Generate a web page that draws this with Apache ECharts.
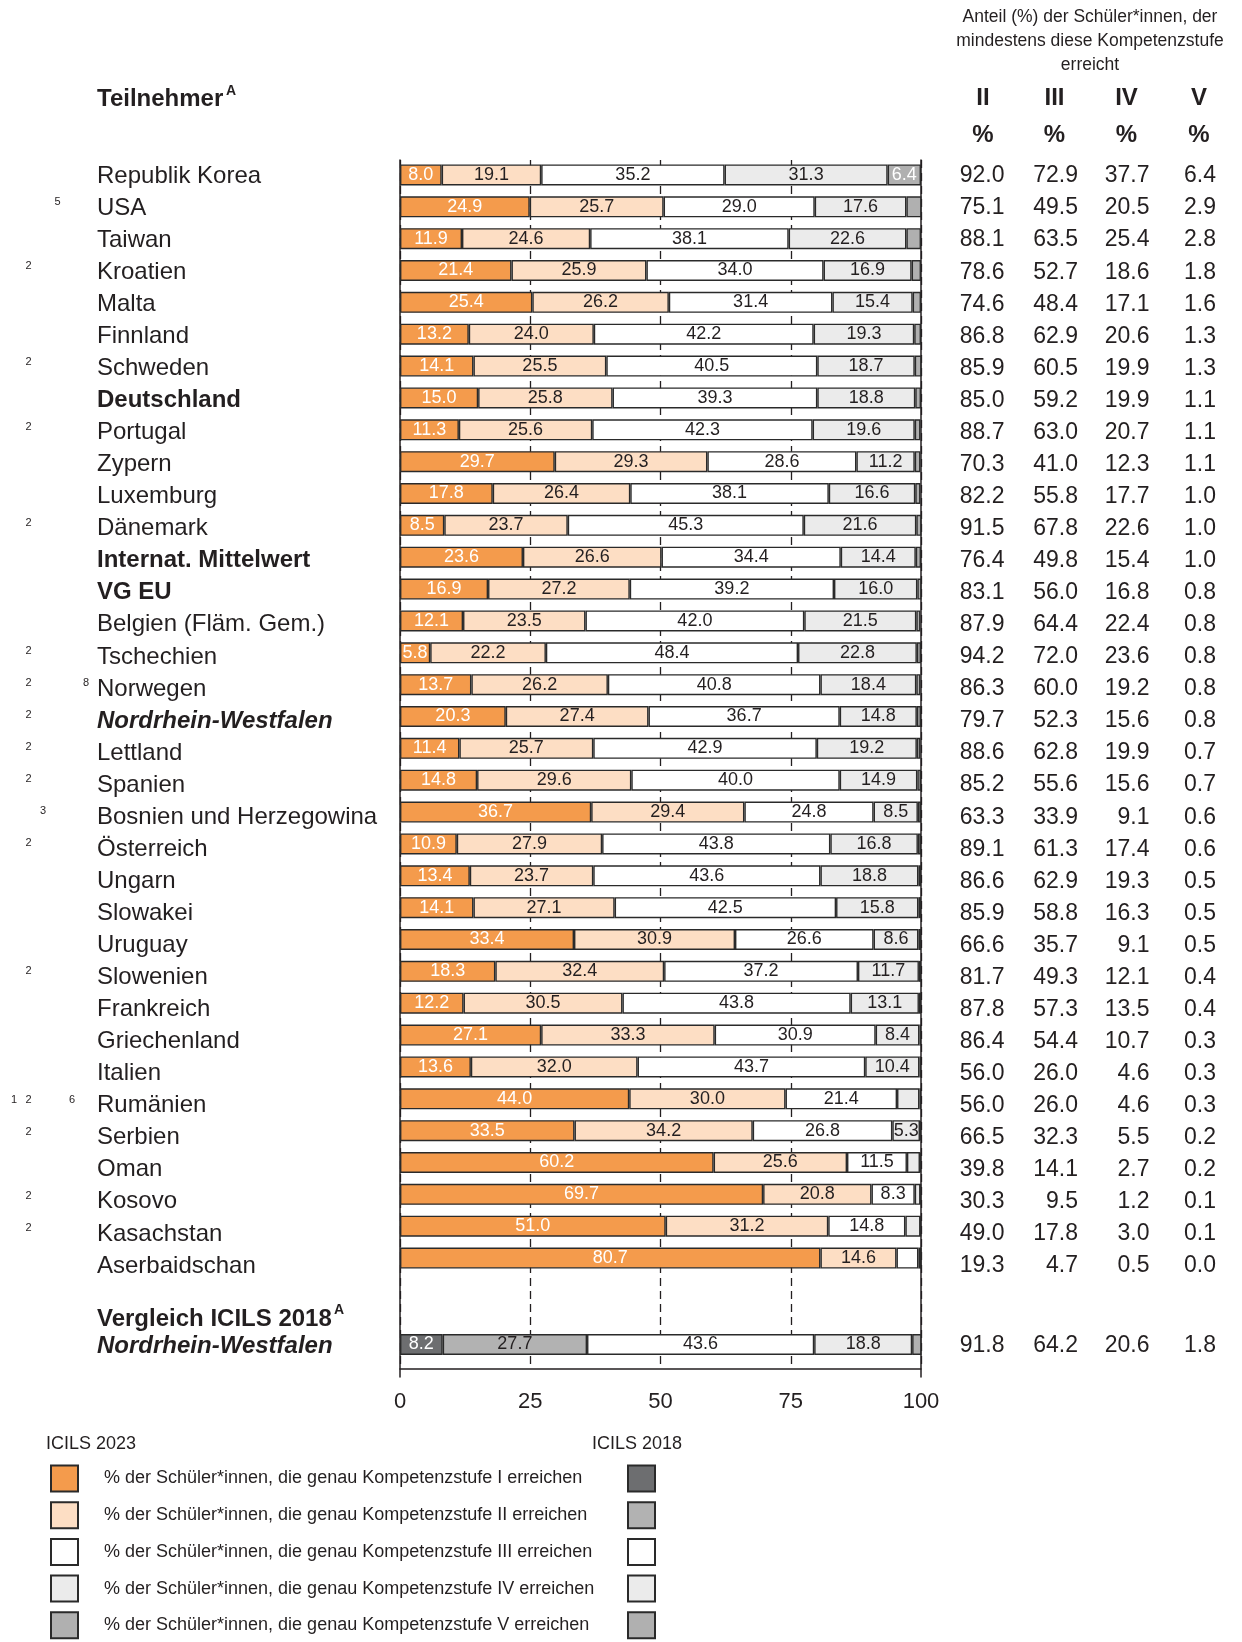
<!DOCTYPE html>
<html><head><meta charset="utf-8">
<script src="https://cdn.jsdelivr.net/npm/echarts/dist/echarts.min.js"></script>
<style>html,body{margin:0;padding:0;background:#fff}#c{width:1242px;height:1642px}</style>
</head><body><div id="c"></div>
<script>
// ---------------- DATA ----------------
const countries = ['Republik Korea','USA','Taiwan','Kroatien','Malta','Finnland','Schweden','Deutschland','Portugal','Zypern','Luxemburg','Dänemark','Internat. Mittelwert','VG EU','Belgien (Fläm. Gem.)','Tschechien','Norwegen','Nordrhein-Westfalen','Lettland','Spanien','Bosnien und Herzegowina','Österreich','Ungarn','Slowakei','Uruguay','Slowenien','Frankreich','Griechenland','Italien','Rumänien','Serbien','Oman','Kosovo','Kasachstan','Aserbaidschan'];
const footnotes = ['','5','','2','','','2','','2','','','2','','','','2','2 8','2','2','2','3','2','','','','2','','','','1 2 6','2','','2','2',''];
const boldRows = ['Deutschland','Internat. Mittelwert','VG EU'];
const boldItalicRows = ['Nordrhein-Westfalen'];

// share of students reaching exactly level I..V (ICILS 2023)
const levelI   = [8.0,24.9,11.9,21.4,25.4,13.2,14.1,15.0,11.3,29.7,17.8,8.5,23.6,16.9,12.1,5.8,13.7,20.3,11.4,14.8,36.7,10.9,13.4,14.1,33.4,18.3,12.2,27.1,13.6,44.0,33.5,60.2,69.7,51.0,80.7];
const levelII  = [19.1,25.7,24.6,25.9,26.2,24.0,25.5,25.8,25.6,29.3,26.4,23.7,26.6,27.2,23.5,22.2,26.2,27.4,25.7,29.6,29.4,27.9,23.7,27.1,30.9,32.4,30.5,33.3,32.0,30.0,34.2,25.6,20.8,31.2,14.6];
const levelIII = [35.2,29.0,38.1,34.0,31.4,42.2,40.5,39.3,42.3,28.6,38.1,45.3,34.4,39.2,42.0,48.4,40.8,36.7,42.9,40.0,24.8,43.8,43.6,42.5,26.6,37.2,43.8,30.9,43.7,21.4,26.8,11.5,8.3,14.8,4.2];
const levelIV  = [31.3,17.6,22.6,16.9,15.4,19.3,18.7,18.8,19.6,11.2,16.6,21.6,14.4,16.0,21.5,22.8,18.4,14.8,19.2,14.9,8.5,16.8,18.8,15.8,8.6,11.7,13.1,8.4,10.4,4.3,5.3,2.5,1.1,2.9,0.5];
const levelV   = [6.4,2.9,2.8,1.8,1.6,1.3,1.3,1.1,1.1,1.1,1.0,1.0,1.0,0.8,0.8,0.8,0.8,0.8,0.7,0.7,0.6,0.6,0.5,0.5,0.5,0.4,0.4,0.3,0.3,0.3,0.2,0.2,0.1,0.1,0.0];

// share reaching at least level II..V
const atLeastII  = [92.0,75.1,88.1,78.6,74.6,86.8,85.9,85.0,88.7,70.3,82.2,91.5,76.4,83.1,87.9,94.2,86.3,79.7,88.6,85.2,63.3,89.1,86.6,85.9,66.6,81.7,87.8,86.4,56.0,56.0,66.5,39.8,30.3,49.0,19.3];
const atLeastIII = [72.9,49.5,63.5,52.7,48.4,62.9,60.5,59.2,63.0,41.0,55.8,67.8,49.8,56.0,64.4,72.0,60.0,52.3,62.8,55.6,33.9,61.3,62.9,58.8,35.7,49.3,57.3,54.4,26.0,26.0,32.3,14.1,9.5,17.8,4.7];
const atLeastIV  = [37.7,20.5,25.4,18.6,17.1,20.6,19.9,19.9,20.7,12.3,17.7,22.6,15.4,16.8,22.4,23.6,19.2,15.6,19.9,15.6,9.1,17.4,19.3,16.3,9.1,12.1,13.5,10.7,4.6,4.6,5.5,2.7,1.2,3.0,0.5];
const atLeastV   = [6.4,2.9,2.8,1.8,1.6,1.3,1.3,1.1,1.1,1.1,1.0,1.0,1.0,0.8,0.8,0.8,0.8,0.8,0.7,0.7,0.6,0.6,0.5,0.5,0.5,0.4,0.4,0.3,0.3,0.3,0.2,0.2,0.1,0.1,0.0];

// ICILS 2018 comparison
const cmpCountries = ['Nordrhein-Westfalen'];
const cmpI = [8.2], cmpII = [27.7], cmpIII = [43.6], cmpIV = [18.8], cmpV = [1.8];
const cmpAtLeastII = [91.8], cmpAtLeastIII = [64.2], cmpAtLeastIV = [20.6], cmpAtLeastV = [1.8];

const axisTicks = [0, 25, 50, 75, 100];
const colHeaders = ['II','III','IV','V'];
const levelNames = [
  '% der Schüler*innen, die genau Kompetenzstufe I erreichen',
  '% der Schüler*innen, die genau Kompetenzstufe II erreichen',
  '% der Schüler*innen, die genau Kompetenzstufe III erreichen',
  '% der Schüler*innen, die genau Kompetenzstufe IV erreichen',
  '% der Schüler*innen, die genau Kompetenzstufe V erreichen'];
const levelNames2018 = ['ICILS 2018 Stufe I','ICILS 2018 Stufe II','ICILS 2018 Stufe III','ICILS 2018 Stufe IV','ICILS 2018 Stufe V'];
const headerLines = ['Anteil (%) der Schüler*innen, der','mindestens diese Kompetenzstufe','erreicht'];

// ---------------- STYLE ----------------
const FONT = "'Liberation Sans', Arial, Helvetica, sans-serif";
const INK = '#231f20';
const colors2023 = ['#F49B4C','#FDDEC4','#FFFFFF','#EBEBEB','#B0B0B0'];
const colors2018 = ['#6D6E70','#B2B2B2','#FFFFFF','#EBEBEB','#B0B0B0'];
const labelColors = ['#FFFFFF', INK, INK, INK, '#FFFFFF'];
const PLOT_L = 400, PLOT_W = 521;
const colRight = [1004.5, 1078, 1149.5, 1216];
const colCenter = [983, 1054.5, 1126.5, 1199];
const fnSlotX = {'1':14, '2':28.5, '3':43, '5':57.5, '6':72, '8':86};

const levels2023 = [levelI, levelII, levelIII, levelIV, levelV];
const levels2018 = [cmpI, cmpII, cmpIII, cmpIV, cmpV];
const table2023 = [atLeastII, atLeastIII, atLeastIV, atLeastV];
const table2018 = [cmpAtLeastII, cmpAtLeastIII, cmpAtLeastIV, cmpAtLeastV];

const grids = [
  {left: PLOT_L, width: PLOT_W, top: 160, height: 1217},   // 0 frame verticals + tick labels
  {left: PLOT_L, width: PLOT_W, top: 160, height: 1209},   // 1 dashed lines + bottom line
  {left: PLOT_L, width: PLOT_W, top: 159, height: 1115},   // 2 bars 2023
  {left: PLOT_L, width: PLOT_W, top: 1328.5, height: 32},  // 3 bar 2018
  {left: PLOT_L, width: PLOT_W, top: 160, height: 1122},   // 4 text 2023
  {left: PLOT_L, width: PLOT_W, top: 1330, height: 32}     // 5 text 2018
].map(g => Object.assign({outerBoundsMode: 'none', containLabel: false}, g));

const hiddenX = gi => ({type:'value', gridIndex: gi, min: 0, max: 100, show: false});

const xAxes = [
  {type:'value', gridIndex:0, min:0, max:100, interval:25,
   axisLine:{show:false}, axisTick:{show:false}, splitLine:{show:false},
   axisLabel:{show:true, fontSize:22, color:INK, fontFamily:FONT, margin:14,
     formatter: v => axisTicks.includes(v) ? String(v) : ''}},
  {type:'value', gridIndex:1, min:0, max:100, interval:25,
   axisLine:{show:true, lineStyle:{color:INK, width:1.5}}, axisTick:{show:false}, axisLabel:{show:false},
   splitLine:{show:true, lineStyle:{color:INK, width:1.3, type:[8,5]}}},
  hiddenX(2), hiddenX(3), hiddenX(4), hiddenX(5)
];

function nameAxis(gi, data) {
  return {type:'category', gridIndex: gi, data: data, inverse: true, position: 'left',
    axisLine:{show:false}, axisTick:{show:false}, splitLine:{show:false},
    axisLabel:{show:true, interval:0, align:'left', margin: PLOT_L - 97, verticalAlign:'middle',
      formatter: v => boldRows.includes(v) ? '{b|' + v + '}' : (boldItalicRows.includes(v) ? '{bi|' + v + '}' : '{n|' + v + '}'),
      rich: {
        n: {fontSize:24, color:INK, fontFamily:FONT},
        b: {fontSize:24, color:INK, fontFamily:FONT, fontWeight:'bold'},
        bi:{fontSize:24, color:INK, fontFamily:FONT, fontWeight:'bold', fontStyle:'italic'}
      }}};
}
function tableAxis(gi, data, col, k) {
  return {type:'category', gridIndex: gi, data: data, inverse: true, position: 'right', offset: 0,
    axisLine:{show:false}, axisTick:{show:false}, splitLine:{show:false},
    axisLabel:{show:true, interval:0, align:'right', verticalAlign:'middle', margin: colRight[k] - (PLOT_L + PLOT_W),
      fontSize:23, color:INK, fontFamily:FONT, formatter: (v, i) => col[i].toFixed(1)}};
}

const yAxes = [
  {type:'value', gridIndex:0, min:0, max:1, position:'left', axisLine:{show:true, lineStyle:{color:INK, width:1.5}}, axisTick:{show:false}, axisLabel:{show:false}, splitLine:{show:false}},
  {type:'value', gridIndex:0, min:0, max:1, position:'right', axisLine:{show:true, lineStyle:{color:INK, width:1.5}}, axisTick:{show:false}, axisLabel:{show:false}, splitLine:{show:false}},
  {type:'value', gridIndex:1, min:0, max:1, show:false},
  {type:'category', gridIndex:2, data: countries, inverse:true, show:false},
  {type:'category', gridIndex:3, data: cmpCountries, inverse:true, show:false},
  nameAxis(4, countries),
  ...table2023.map((col, k) => tableAxis(4, countries, col, k)),
  nameAxis(5, cmpCountries),
  ...table2018.map((col, k) => tableAxis(5, cmpCountries, col, k))
];
// indices: names2023 = 5, table 6..9, names2018 = 10, table 11..14

function barSeries(arr, k, names, colors, xi, yi, stack) {
  return {type:'bar', name: names[k], xAxisIndex: xi, yAxisIndex: yi, stack: stack, data: arr,
    barWidth: 21, animation: false, emphasis:{disabled:true}, silent: true,
    itemStyle:{color: colors[k], borderColor:'#2a2a2a', borderWidth:1.4},
    label:{show:true, position:'inside', color: (stack === 's18' && k === 1) ? INK : labelColors[k],
      fontSize:18, fontFamily:FONT, textBorderWidth:0,
      formatter: p => p.value >= 5 ? p.value.toFixed(1) : ''}};
}

const series = [
  ...levels2023.map((arr, k) => barSeries(arr, k, levelNames, colors2023, 2, 3, 's23')),
  ...levels2018.map((arr, k) => barSeries(arr, k, levelNames2018, colors2018, 3, 4, 's18'))
];

const txt = (x, y, text, o) => ({type:'text', x, y, silent:true,
  style: Object.assign({text, fontFamily:FONT, fill:INK, fontSize:24, align:'left', verticalAlign:'middle'}, o || {})});

const graphics = [
  ...headerLines.map((t, i) => txt(1090, 17 + 24 * i, t, {fontSize:17.5, align:'center'})),
  ...colHeaders.map((t, i) => txt(colCenter[i], 98, t, {fontWeight:'bold', align:'center'})),
  ...colHeaders.map((t, i) => txt(colCenter[i], 135, '%', {fontWeight:'bold', align:'center'})),
  txt(97, 99, 'Teilnehmer', {fontWeight:'bold'}),
  txt(226, 91, 'A', {fontWeight:'bold', fontSize:14}),
  txt(97, 1319, 'Vergleich ICILS 2018', {fontWeight:'bold'}),
  txt(334, 1310, 'A', {fontWeight:'bold', fontSize:14}),
  txt(46, 1444, 'ICILS 2023', {fontSize:18}),
  txt(592, 1444, 'ICILS 2018', {fontSize:18})
];

const legendBase = {orient:'vertical', top:1464.5, height:200, padding:0, itemWidth:27, itemHeight:26, itemGap:8.7, icon:'rect', selectedMode:false};

const chart = echarts.init(document.getElementById('c'), null, {renderer:'canvas'});
chart.setOption({
  animation:false,
  backgroundColor:'#fff',
  textStyle:{fontFamily:FONT},
  grid: grids, xAxis: xAxes, yAxis: yAxes, series: series,
  legend: [
    Object.assign({}, legendBase, {left:50, width:600, data: levelNames,
      formatter: n => '{t|' + n + '}',
      textStyle:{rich:{t:{fontSize:18, lineHeight:20, height:20, color:INK, fontFamily:FONT, padding:[0,0,0,21]}}}}),
    Object.assign({}, legendBase, {left:627, width:40, data: levelNames2018, formatter: () => ''})
  ],
  graphic: graphics
});

// footnote markers placed on the row positions of the name axis
const fnGraphics = [];
footnotes.forEach((f, i) => {
  if (!f) return;
  const y = chart.convertToPixel({yAxisIndex: 5}, i);
  f.split(' ').forEach(n => fnGraphics.push(txt(fnSlotX[n], y - 6, n, {fontSize:11, align:'center'})));
});
chart.setOption({graphic: graphics.concat(fnGraphics)});
</script>
</body></html>
